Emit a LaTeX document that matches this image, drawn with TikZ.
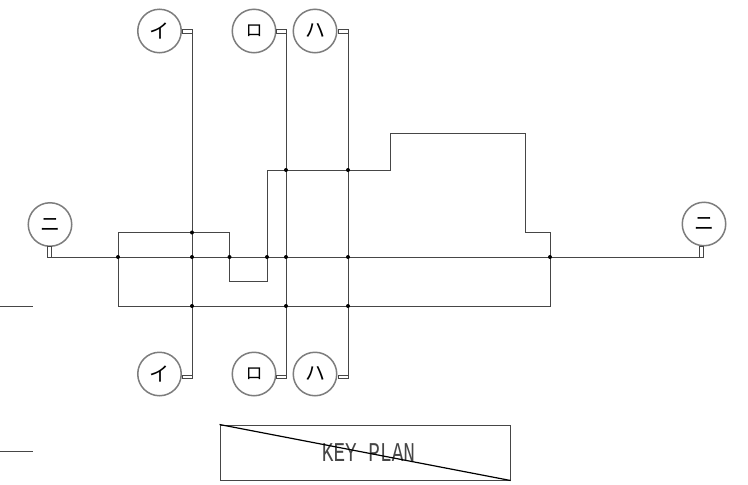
\documentclass[tikz,border=0pt]{standalone}
\usepackage{fontspec}
\newfontfamily\cjk{Noto Sans CJK JP}
\setmonofont{Liberation Mono}
\usetikzlibrary{positioning}
\definecolor{wiregray}{RGB}{70,70,70}
\definecolor{ringgray}{RGB}{125,125,125}

\begin{document}
\begin{tikzpicture}[
    x=1pt, y=-1pt,
    ring/.style={circle, draw=ringgray, line width=1.5pt, fill=white, minimum size=43.5pt, inner sep=0pt, font=\cjk\fontsize{20}{20}\selectfont},
    hstub/.style={rectangle, draw=wiregray, line width=0.7pt, minimum width=10pt, minimum height=3.6pt, inner sep=0pt},
    vstub/.style={rectangle, draw=wiregray, line width=0.7pt, minimum width=4.5pt, minimum height=11pt, inner sep=0pt},
    wire/.style={draw=wiregray, line width=1pt},
    junct/.style={circle, fill=black, minimum size=4pt, inner sep=0pt},
    plan/.style={rectangle, draw=wiregray, line width=1pt, minimum width=290pt, minimum height=55pt, inner sep=0pt}
]
\useasboundingbox (0,0) rectangle (748,485);

% balloons along the top
\node[ring] (itop) at (159.5,31) {イ};
\node[ring, font=\cjk\fontsize{17}{17}\selectfont] (rotop) at (254,31) {ロ};
\node[ring] (hatop) at (315,31) {ハ};
\node[hstub] (itopstub) at (187,31.2) {};
\node[hstub] (rotopstub) at (281,31.2) {};
\node[hstub] (hatopstub) at (343,31.2) {};

% balloons along the bottom
\node[ring] (ibot) at (159.5,374) {イ};
\node[ring, font=\cjk\fontsize{17}{17}\selectfont] (robot) at (254,374) {ロ};
\node[ring] (habot) at (315,374) {ハ};
\node[hstub] (ibotstub) at (187,377) {};
\node[hstub] (robotstub) at (281,377) {};
\node[hstub] (habotstub) at (343,377) {};

% balloons left and right
\node[ring] (nileft) at (50,224.5) {ニ};
\node[ring] (niright) at (704,224) {ニ};
\node[vstub] (nileftstub) at (49.5,251.5) {};
\node[vstub] (nirightstub) at (701.5,251.5) {};

% outline of the plan
\coordinate (a) at (118,232.5);
\coordinate (b) at (229.5,232.5);
\coordinate (c) at (229.5,281.5);
\coordinate (d) at (267,281.5);
\coordinate (e) at (267,170);
\coordinate (f) at (390,170);
\coordinate (g) at (390,133);
\coordinate (h) at (525.5,133);
\coordinate (j) at (525.5,232.5);
\coordinate (k) at (550,232.5);
\coordinate (l) at (550,306);
\coordinate (m) at (118,306);
\draw[wire] (a) -- (b) -- (c) -- (d) -- (e) -- (f) -- (g) -- (h) -- (j) -- (k) -- (l) -- (m) -- cycle;

% grid lines
\draw[wire] (itopstub.north east) -- (ibotstub.south east);
\draw[wire] (rotopstub.north east) -- (robotstub.south east);
\draw[wire] (hatopstub.north east) -- (habotstub.south east);
\draw[wire] (nileftstub.south east) -- (nirightstub.south west);

% junctions
\node[junct] (j1) at (286,170) {};
\node[junct] (j2) at (348,170) {};
\node[junct] (j3) at (192,232.5) {};
\node[junct] (j4) at (118,257) {};
\node[junct] (j5) at (192,257) {};
\node[junct] (j6) at (229.5,257) {};
\node[junct] (j7) at (267,257) {};
\node[junct] (j8) at (286,257) {};
\node[junct] (j9) at (348,257) {};
\node[junct] (j10) at (550,257) {};
\node[junct] (j11) at (192,306) {};
\node[junct] (j12) at (286,306) {};
\node[junct] (j13) at (348,306) {};

% stubs at the left edge
\coordinate (edgeA) at (0,306.5);
\coordinate (edgeB) at (33,306.5);
\coordinate (edgeC) at (0,451.5);
\coordinate (edgeD) at (33,451.5);
\draw[wire] (edgeA) -- (edgeB);
\draw[wire] (edgeC) -- (edgeD);

% key plan box
\node[plan] (keybox) at (365,452.5) {};
\node[font=\ttfamily\fontsize{19.4}{20}\selectfont, text=wiregray, inner sep=0pt] (keylabel) at (368.5,453) {\scalebox{1}[1.4]{KEY PLAN}};
\draw[draw=black, line width=1.2pt] (keybox.north west) -- (keybox.south east);
\end{tikzpicture}
\end{document}
